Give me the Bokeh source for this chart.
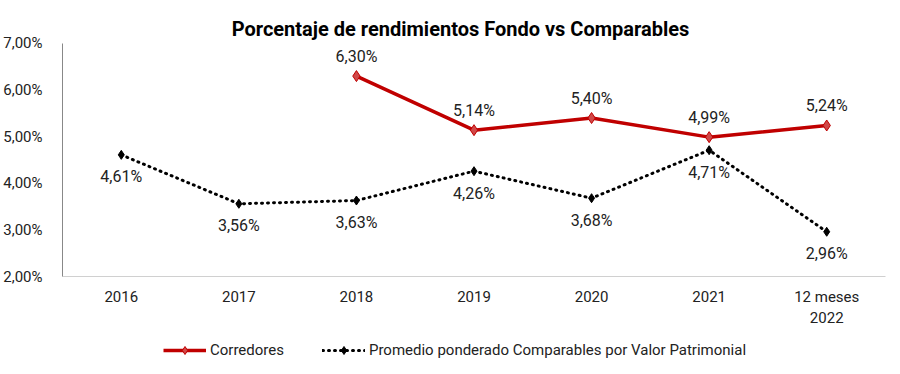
from bokeh.plotting import figure
from bokeh.layouts import column
from bokeh.models import ColumnDataSource, CustomJSTickFormatter, FixedTicker, Legend, LegendItem, Range1d
from bokeh.core.properties import value
from bokeh.embed import file_html
from bokeh.resources import INLINE
import numpy as np

categories = ["2016", "2017", "2018", "2019", "2020", "2021", "12 meses\n2022"]
corredores = [np.nan, np.nan, 6.30, 5.14, 5.40, 4.99, 5.24]
comparables = [4.61, 3.56, 3.63, 4.26, 3.68, 4.71, 2.96]
y_ticks = [2, 3, 4, 5, 6, 7]
title_text = "Porcentaje de rendimientos  Fondo vs Comparables"
series_names = ["Corredores", "Promedio ponderado Comparables por Valor Patrimonial"]

FONT = "Roboto"
RED = "#C00000"

def fmt(v):
    return "" if np.isnan(v) else ("%.2f" % v).replace(".", ",") + "%"

src = ColumnDataSource(dict(
    x=categories,
    c=corredores,
    m=comparables,
    cl=[fmt(v) for v in corredores],
    ml=[fmt(v) for v in comparables],
))

p = figure(width=890, height=330, x_range=categories, y_range=(2, 7.75),
           output_backend="svg", toolbar_location=None,
           min_border_left=61, min_border_right=5, min_border_top=8, min_border_bottom=54)
p.outline_line_color = None
p.xgrid.grid_line_color = None
p.ygrid.grid_line_color = None

# Y axis
p.yaxis.bounds = (2, 7)
p.yaxis.ticker = FixedTicker(ticks=y_ticks)
p.yaxis.formatter = CustomJSTickFormatter(code="return tick.toFixed(2).replace('.', ',') + '%';")
p.yaxis.axis_line_color = "#888888"
p.yaxis.major_tick_line_color = None
p.yaxis.minor_tick_line_color = None
p.yaxis.major_label_text_font = FONT
p.yaxis.major_label_text_font_size = "15px"
p.yaxis.major_label_text_color = "#222222"
p.yaxis.major_label_standoff = 14

# X axis
p.xaxis.axis_line_color = "#D0D0D0"
p.xaxis.major_tick_line_color = None
p.xaxis.minor_tick_line_color = None
p.xaxis.major_label_text_font = FONT
p.xaxis.major_label_text_font_size = "15px"
p.xaxis.major_label_text_color = "#222222"
p.xaxis.major_label_standoff = 5

# Lines
LINE1 = dict(line_color=RED, line_width=3.5)
MARK1 = dict(marker="diamond", size=11, fill_color="#D04848", line_color=RED, line_width=1)
LINE2 = dict(line_color="black", line_width=3, line_dash="1 5", line_cap="round")
MARK2 = dict(marker="diamond", size=9, fill_color="black", line_color="black")

p.line("x", "c", source=src, **LINE1)
p.scatter("x", "c", source=src, **MARK1)
p.line("x", "m", source=src, **LINE2)
p.scatter("x", "m", source=src, **MARK2)

# Data labels
p.text("x", "c", text="cl", source=src, y_offset=-20, text_align="center", text_baseline="middle",
       text_font=value(FONT), text_font_size="16px", text_color="#222222")
p.text("x", "m", text="ml", source=src, y_offset=22, text_align="center", text_baseline="middle",
       text_font=value(FONT), text_font_size="16px", text_color="#222222")

# Title
p.text(x=[categories[3]], y=[7.32], text=[title_text], x_offset=-11, text_align="center",
       text_baseline="middle", text_font=value(FONT), text_font_size="20px",
       text_font_style="bold", text_color="black")

# Legend strip (separate figure below the chart); its renderers sit outside the visible range
lg = figure(width=890, height=40, x_range=Range1d(0, 1), y_range=Range1d(0, 1),
            output_backend="svg", toolbar_location=None,
            x_axis_location=None, y_axis_location=None,
            min_border_left=0, min_border_right=0, min_border_top=0, min_border_bottom=0)
lg.outline_line_color = None
lg.xgrid.grid_line_color = None
lg.ygrid.grid_line_color = None
e = ColumnDataSource(dict(x=[-5, -4], y=[-5, -4]))
l1 = lg.line("x", "y", source=e, **LINE1)
m1 = lg.scatter("x", "y", source=e, **MARK1)
l2 = lg.line("x", "y", source=e, **LINE2)
m2 = lg.scatter("x", "y", source=e, **MARK2)

legend = Legend(items=[
    LegendItem(label=series_names[0], renderers=[l1, m1]),
    LegendItem(label=series_names[1], renderers=[l2, m2]),
], orientation="horizontal", location=(101, 10), border_line_color=None,
    background_fill_alpha=0, label_text_font=FONT, label_text_font_size="15px",
    label_text_color="#222222", glyph_width=43, label_standoff=4, spacing=38, padding=0, margin=0)
lg.add_layout(legend, "center")

layout = column(p, lg, spacing=0)
open("out.html", "w").write(file_html(layout, INLINE))
